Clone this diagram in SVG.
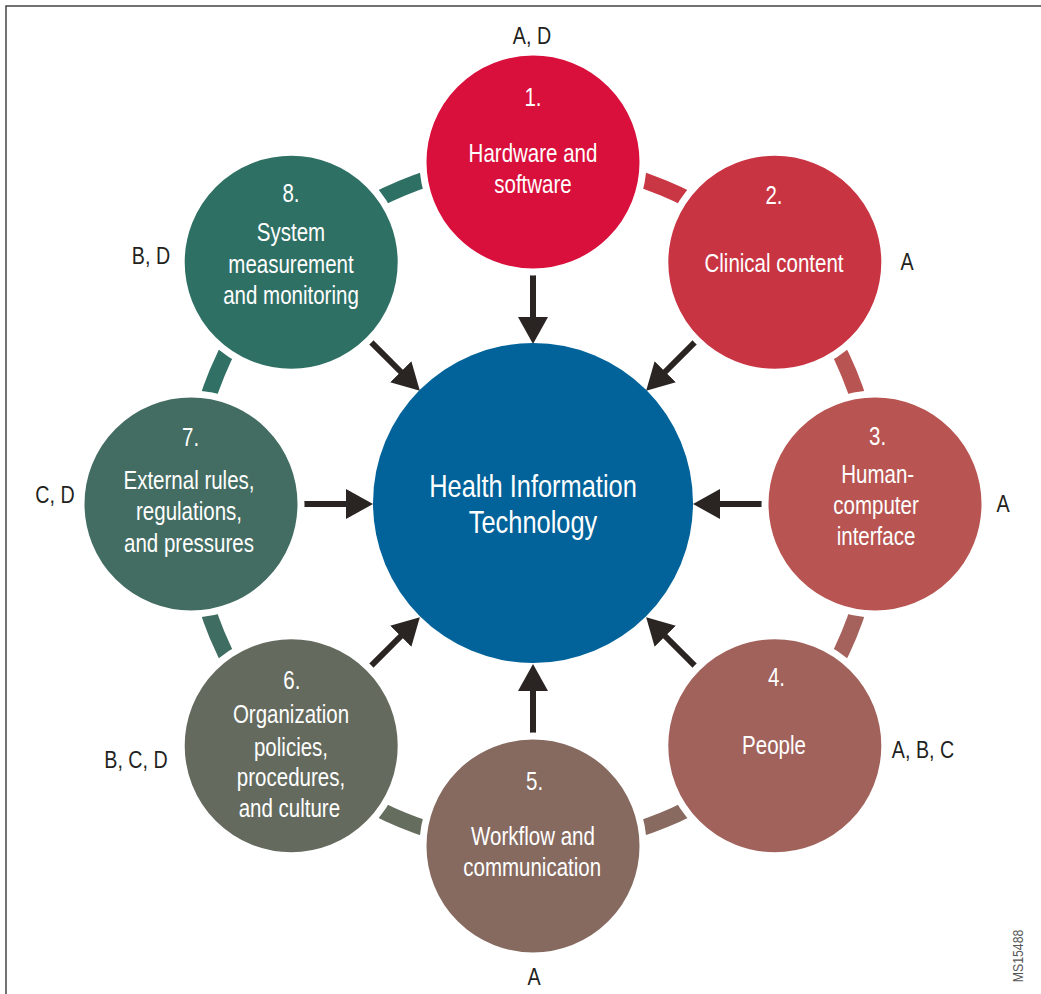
<svg xmlns="http://www.w3.org/2000/svg" width="1041" height="994" viewBox="0 0 1041 994">
<defs>
<style>
.ring{fill:none;stroke-width:16}
.halo{stroke:#fff;stroke-width:7}
.nt{font-family:"Liberation Sans",Arial,sans-serif;font-size:25px;fill:#fff;text-anchor:middle}
.ct{font-family:"Liberation Sans",Arial,sans-serif;font-size:31px;fill:#fff;text-anchor:middle}
.lb{font-family:"Liberation Sans",Arial,sans-serif;font-size:24px;fill:#231f20;text-anchor:middle}
.arr{stroke:#2a2523;stroke-width:6;fill:none;marker-end:url(#ah)}
</style>
<marker id="ah" markerUnits="userSpaceOnUse" viewBox="0 0 27 30" markerWidth="27" markerHeight="30" refX="6" refY="15" orient="auto">
<path d="M0,0 L27,15 L0,30 z" fill="#2a2523"/>
</marker>
</defs>
<rect x="0" y="0" width="1041" height="994" fill="#fff"/>
<path d="M6,994 V6 H1041" fill="none" stroke="#444" stroke-width="1.5"/>

<g id="ring">
<path class="ring" stroke="#c93644" d="M533,162 A342,342 0 0 1 774.8,262.2"/>
<path class="ring" stroke="#b85451" d="M774.8,262.2 A342,342 0 0 1 875,504"/>
<path class="ring" stroke="#a5615b" d="M875,504 A342,342 0 0 1 774.8,745.8"/>
<path class="ring" stroke="#896a61" d="M774.8,745.8 A342,342 0 0 1 533,846"/>
<path class="ring" stroke="#656d5f" d="M533,846 A342,342 0 0 1 291.2,745.8"/>
<path class="ring" stroke="#406d62" d="M291.2,745.8 A342,342 0 0 1 191,504"/>
<path class="ring" stroke="#307065" d="M191,504 A342,342 0 0 1 291.2,262.2"/>
<path class="ring" stroke="#2f7065" d="M291.2,262.2 A342,342 0 0 1 533,162"/>
</g>

<g id="connectors">
<path class="arr" d="M533,275 L533,323"/>
<path class="arr" d="M694.9,342.1 L661,376"/>
<path class="arr" d="M762,504 L714,504"/>
<path class="arr" d="M694.9,665.9 L661,632"/>
<path class="arr" d="M533,733 L533,685"/>
<path class="arr" d="M371.1,665.9 L405,632"/>
<path class="arr" d="M304,504 L352,504"/>
<path class="arr" d="M371.1,342.1 L405,376"/>
</g>

<g id="center">
<circle cx="533" cy="503" r="160" fill="#01639a"/>
<g transform="translate(533,0) scale(0.82,1)">
<text class="ct" x="0" y="497">Health Information</text>
<text class="ct" x="0" y="533">Technology</text>
</g>
</g>

<g id="node1">
<circle class="halo" cx="533" cy="162" r="110" fill="#d90f3c"/>
<g transform="translate(533,0) scale(0.82,1)">
<text class="nt" x="0" y="106">1.</text>
<text class="nt" x="0" y="162">Hardware and</text>
<text class="nt" x="0" y="193">software</text>
</g>
<text class="lb" transform="translate(532,44) scale(0.82,1)">A, D</text>
</g>

<g id="node2">
<circle class="halo" cx="774.8" cy="262.2" r="110" fill="#c93443"/>
<g transform="translate(774,0) scale(0.82,1)">
<text class="nt" x="0" y="204">2.</text>
<text class="nt" x="0" y="272">Clinical content</text>
</g>
<text class="lb" transform="translate(907,270) scale(0.82,1)">A</text>
</g>

<g id="node3">
<circle class="halo" cx="875" cy="504" r="110" fill="#b85451"/>
<g transform="translate(876,0) scale(0.82,1)">
<text class="nt" x="2" y="445">3.</text>
<text class="nt" x="2" y="483">Human-</text>
<text class="nt" x="0" y="514">computer</text>
<text class="nt" x="0" y="545">interface</text>
</g>
<text class="lb" transform="translate(1003,512) scale(0.82,1)">A</text>
</g>

<g id="node4">
<circle class="halo" cx="774.8" cy="745.8" r="110" fill="#a2625c"/>
<g transform="translate(774,0) scale(0.82,1)">
<text class="nt" x="3" y="686">4.</text>
<text class="nt" x="0" y="754">People</text>
</g>
<text class="lb" transform="translate(923,758) scale(0.82,1)">A, B, C</text>
</g>

<g id="node5">
<circle class="halo" cx="533" cy="846" r="110" fill="#866a60"/>
<g transform="translate(533,0) scale(0.82,1)">
<text class="nt" x="2" y="790">5.</text>
<text class="nt" x="0" y="845">Workflow and</text>
<text class="nt" x="-1" y="876">communication</text>
</g>
<text class="lb" transform="translate(534,985) scale(0.82,1)">A</text>
</g>

<g id="node6">
<circle class="halo" cx="291.2" cy="745.8" r="110" fill="#646b5e"/>
<g transform="translate(291,0) scale(0.82,1)">
<text class="nt" x="1" y="689">6.</text>
<text class="nt" x="0" y="723">Organization</text>
<text class="nt" x="0" y="756">policies,</text>
<text class="nt" x="0" y="786">procedures,</text>
<text class="nt" x="-2" y="817">and culture</text>
</g>
<text class="lb" transform="translate(136,768) scale(0.82,1)">B, C, D</text>
</g>

<g id="node7">
<circle class="halo" cx="191" cy="504" r="110" fill="#436d62"/>
<g transform="translate(189,0) scale(0.82,1)">
<text class="nt" x="2" y="446">7.</text>
<text class="nt" x="0" y="489">External rules,</text>
<text class="nt" x="0" y="520">regulations,</text>
<text class="nt" x="0" y="552">and pressures</text>
</g>
<text class="lb" transform="translate(55,503) scale(0.82,1)">C, D</text>
</g>

<g id="node8">
<circle class="halo" cx="291.2" cy="262.2" r="110" fill="#2f7065"/>
<g transform="translate(291,0) scale(0.82,1)">
<text class="nt" x="0" y="202">8.</text>
<text class="nt" x="0" y="241">System</text>
<text class="nt" x="0" y="273">measurement</text>
<text class="nt" x="0" y="304">and monitoring</text>
</g>
<text class="lb" transform="translate(151,264) scale(0.82,1)">B, D</text>
</g>

<text transform="translate(1023,956) rotate(-90) scale(0.82,1)" font-family="Liberation Sans,Arial,sans-serif" font-size="15" fill="#555" text-anchor="middle">MS15488</text>
</svg>
